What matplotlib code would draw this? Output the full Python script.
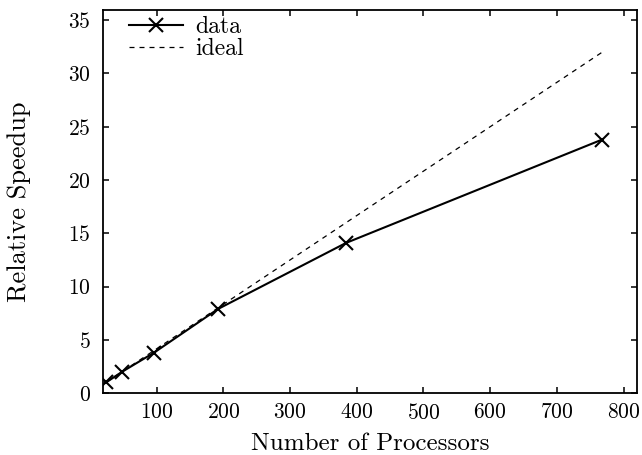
import matplotlib
matplotlib.use("Agg")
import matplotlib.pyplot as plt

procs = [24, 48, 96, 192, 384, 768]
speedup = [1.0, 2.0, 3.8, 7.9, 14.1, 23.8]
ideal = [1, 2, 4, 8, 16, 32]

plt.rcParams["font.family"] = "serif"
plt.rcParams["font.serif"] = ["cmr10"]
plt.rcParams["mathtext.fontset"] = "cm"
plt.rcParams["axes.formatter.use_mathtext"] = True

fig = plt.figure(figsize=(6.42, 4.55), dpi=100)
ax = fig.add_axes([0.161, 0.136, 0.831, 0.843])

ax.plot(procs, speedup, "-x", color="black", lw=1.5, ms=10, mew=1.5, label="data")
ax.plot(procs, ideal, "--", color="black", lw=0.9, dashes=(4, 4), label="ideal")

ax.set_xlim(20, 820)
ax.set_ylim(0, 36)
ax.set_xticks(range(100, 900, 100))
ax.set_yticks(range(0, 40, 5))
ax.tick_params(direction="in", top=True, right=True, length=4.5, width=1.1,
               labelsize=15.5)
ax.tick_params(axis="y", pad=9)
ax.tick_params(axis="x", pad=7)
for s in ax.spines.values():
    s.set_linewidth(1.3)

ax.set_xlabel("Number of Processors", fontsize=18, labelpad=7)
ax.set_ylabel("Relative Speedup", fontsize=19, labelpad=27)

ax.legend(loc="upper left", frameon=False, fontsize=17, handlelength=2.3,
          borderaxespad=0.0, labelspacing=0.0, handletextpad=0.5,
          bbox_to_anchor=(0.03, 1.008))

fig.savefig("out.png", dpi=100)
